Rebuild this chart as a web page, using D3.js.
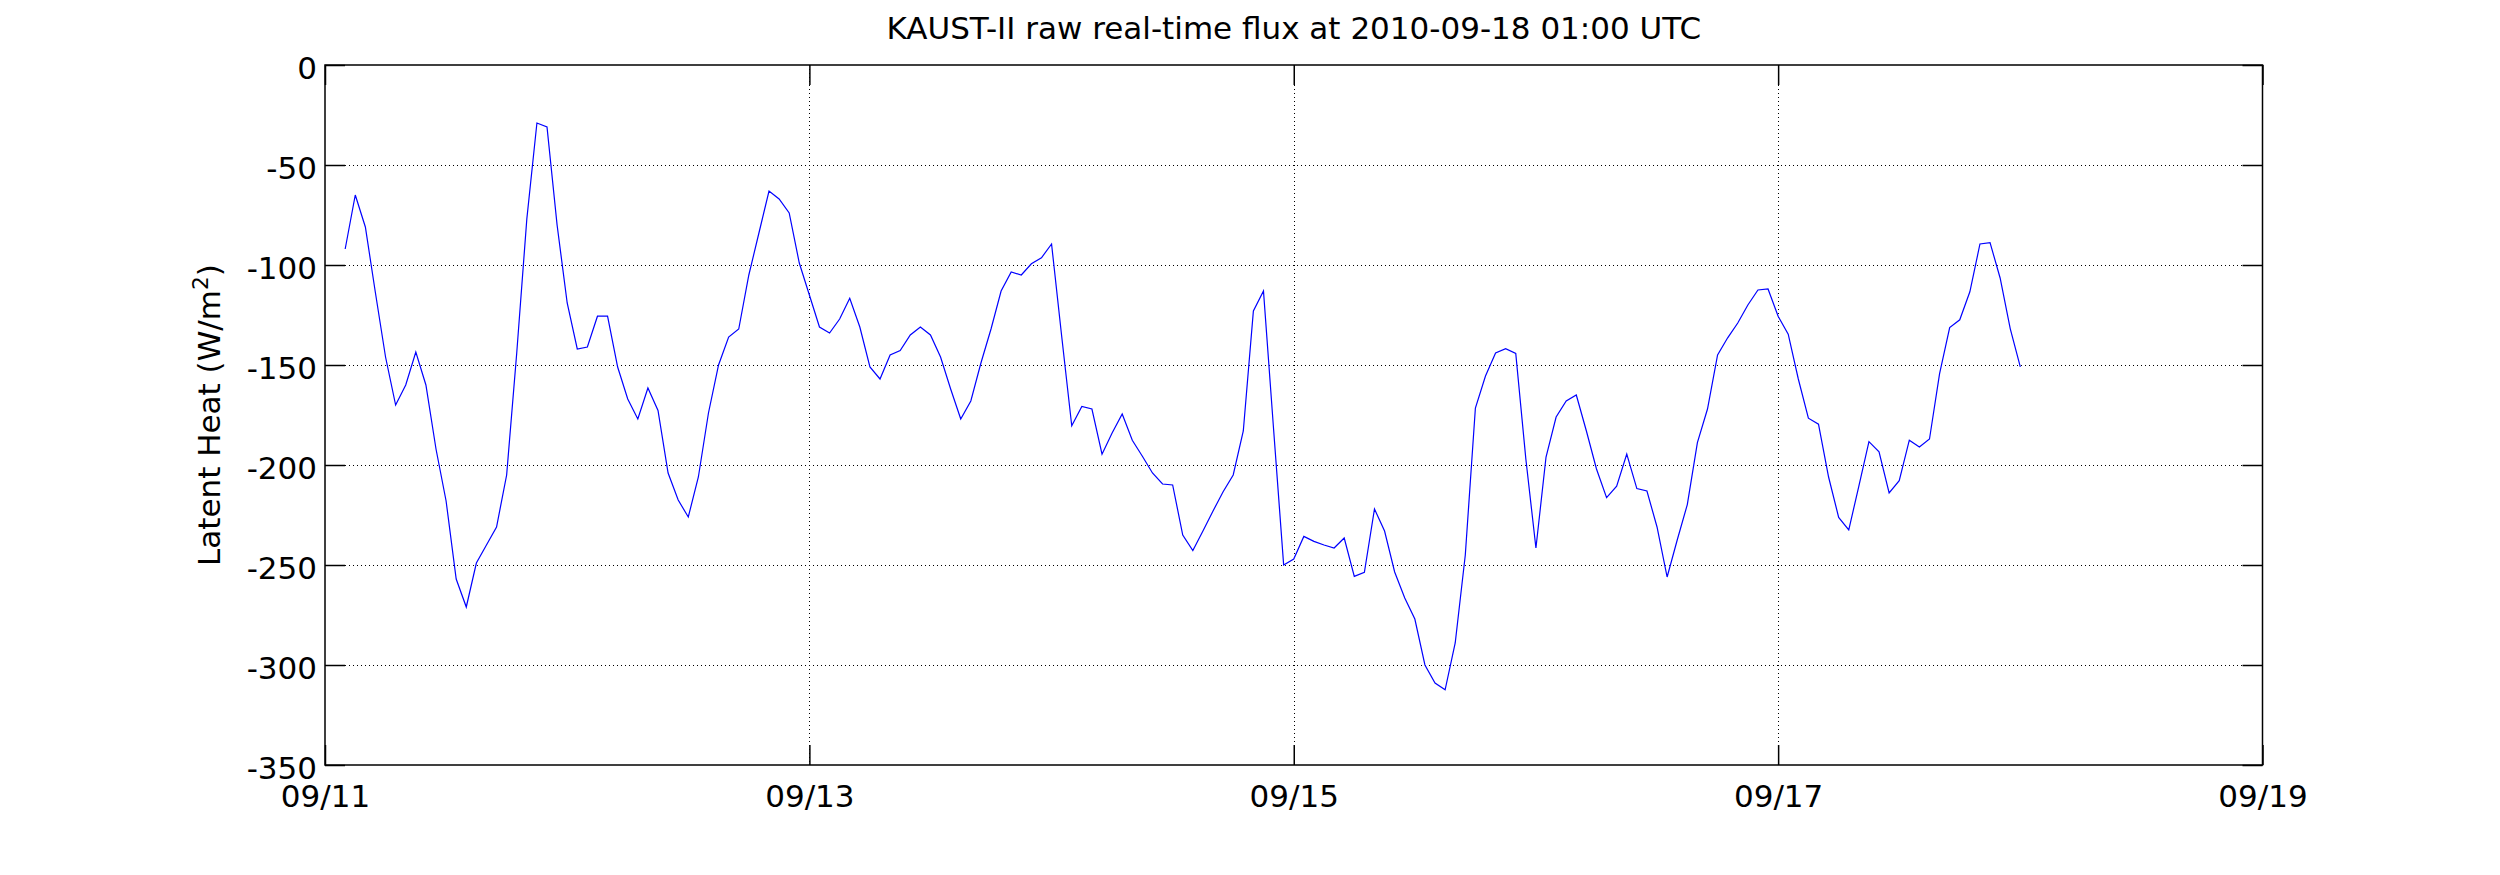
<!DOCTYPE html>
<html>
<head>
<meta charset="utf-8">
<script src="https://cdn.jsdelivr.net/npm/d3@7"></script>
<style>
  html, body { margin: 0; padding: 0; background: #fff; }
  svg { display: block; }
  text { font-family: "DejaVu Sans", sans-serif; fill: #000; }
</style>
</head>
<body>
<svg id="chart" width="2500" height="875"></svg>
<script>
// ---- data (hourly samples starting 2010-09-11 02:00 UTC) ----
const titleText = "KAUST-II raw real-time flux at 2010-09-18 01:00 UTC";
const startTime = "2010-09-11T02:00:00Z";
const xDomain = ["2010-09-11T00:00:00Z", "2010-09-19T00:00:00Z"];
const xTickDates = ["2010-09-11", "2010-09-13", "2010-09-15", "2010-09-17", "2010-09-19"];
const yTicks = [0, -50, -100, -150, -200, -250, -300, -350];
const latentHeat = [
  -92, -65, -81, -114, -146, -170, -160, -143.5, -160, -192,
  -218, -257, -271, -249, -240, -231, -205, -144, -77, -29,
  -31, -80, -119, -142, -141, -125.6, -125.6, -151, -167, -177,
  -161.5, -172.7, -204, -217.5, -226, -206, -174, -150, -136, -132,
  -105, -84, -63, -67, -74, -99, -115, -131, -134, -127,
  -116.6, -131, -151, -157, -145, -142.8, -135, -131, -135, -146,
  -162, -177, -168, -149, -132, -113, -103.5, -105, -99.4, -96.4,
  -89.5, -135.5, -180.4, -170.7, -172, -194.6, -184, -174.5, -187.6, -195.6,
  -204, -209.5, -210, -235, -242.8, -233, -223, -213.4, -205, -183,
  -123, -113, -182, -250, -247, -235.7, -238.2, -240, -241.5, -236.5,
  -255.7, -253.7, -222, -233, -253.5, -266.5, -277, -300, -309, -312.4,
  -289, -245, -171.5, -155.5, -144, -141.8, -144.2, -197, -241.5, -196,
  -176, -168, -165, -183, -202, -216.3, -210.6, -194.5, -211.8, -213,
  -231, -256, -237.5, -219.8, -188.8, -172, -145, -136.4, -129, -120,
  -112.5, -112, -125.6, -134.6, -157, -176.6, -179.6, -206, -226.2, -232.4,
  -210.6, -188.3, -193.4, -214, -207.8, -187.6, -191, -187, -154.3, -131.3,
  -127.4, -113.4, -89.5, -88.8, -106.5, -131.8, -150.9
];

// ---- layout ----
const W = 2500, H = 875;
const margin = { left: 325, right: 2500 - 2262.5, top: 65, bottom: 875 - 765 };
const iw = W - margin.left - margin.right;
const ih = H - margin.top - margin.bottom;
const FS = 31;

const svg = d3.select("#chart");
const g = svg.append("g").attr("transform", `translate(${margin.left},${margin.top})`);

const t0 = new Date(startTime);
const data = latentHeat.map((v, i) => ({ t: d3.utcHour.offset(t0, i), v }));

const x = d3.scaleUtc().domain(xDomain.map(d => new Date(d))).range([0, iw]);
const y = d3.scaleLinear().domain([-350, 0]).range([ih, 0]);
const xTicks = xTickDates.map(d => new Date(d + "T00:00:00Z"));
const fmt = d3.utcFormat("%m/%d");

// grid lines (dotted), skipping those on the frame
const gridStyle = s => s.attr("stroke", "#000").attr("stroke-width", 1).attr("stroke-dasharray", "1,3");
g.append("g").selectAll("line")
  .data(yTicks.filter(d => d !== 0 && d !== -350)).join("line")
  .attr("x1", 0).attr("x2", iw)
  .attr("y1", d => Math.round(y(d)) + 0.5).attr("y2", d => Math.round(y(d)) + 0.5)
  .call(gridStyle);
g.append("g").selectAll("line")
  .data(xTicks.slice(1, -1)).join("line")
  .attr("y1", 0).attr("y2", ih)
  .attr("x1", d => Math.round(x(d)) + 0.5).attr("x2", d => Math.round(x(d)) + 0.5)
  .call(gridStyle);

// data line
g.append("path").datum(data)
  .attr("fill", "none")
  .attr("stroke", "#0000ff")
  .attr("stroke-width", 1.2)
  .attr("d", d3.line().x(d => x(d.t)).y(d => y(d.v)));

// axes (ticks pointing inward)
const TL = 20;
const styleAxis = sel => {
  sel.select(".domain").remove();
  sel.selectAll(".tick line").attr("stroke", "#000").attr("stroke-width", 1.5);
  sel.selectAll("text").attr("font-size", FS).attr("fill", "#000")
    .style("font-family", '"DejaVu Sans", sans-serif');
};
const minus = d => String(d);

const yL = g.append("g").call(d3.axisLeft(y).tickValues(yTicks).tickSize(-TL).tickPadding(8).tickFormat(minus));
styleAxis(yL);
yL.selectAll("text").attr("dy", "0.45em");

const yR = g.append("g").attr("transform", `translate(${iw},0)`)
  .call(d3.axisRight(y).tickValues(yTicks).tickSize(-TL).tickFormat(""));
styleAxis(yR);

const xB = g.append("g").attr("transform", `translate(0,${ih})`)
  .call(d3.axisBottom(x).tickValues(xTicks).tickSize(-TL).tickPadding(20).tickFormat(fmt));
styleAxis(xB);

const xT = g.append("g")
  .call(d3.axisTop(x).tickValues(xTicks).tickSize(-TL).tickFormat(""));
styleAxis(xT);

// frame
g.append("rect").attr("x", 0).attr("y", 0).attr("width", iw).attr("height", ih)
  .attr("fill", "none").attr("stroke", "#000").attr("stroke-width", 1.5);

// title
svg.append("text")
  .attr("x", margin.left + iw / 2).attr("y", 39)
  .attr("text-anchor", "middle").attr("font-size", FS)
  .text(titleText);

// y label
const yl = svg.append("text")
  .attr("transform", `translate(220,${margin.top + ih / 2}) rotate(-90)`)
  .attr("text-anchor", "middle").attr("font-size", FS);
yl.append("tspan").text("Latent Heat (W/m");
yl.append("tspan").attr("font-size", FS * 0.7).attr("dy", -12).text("2");
yl.append("tspan").attr("dy", 12).text(")");
</script>
</body>
</html>
